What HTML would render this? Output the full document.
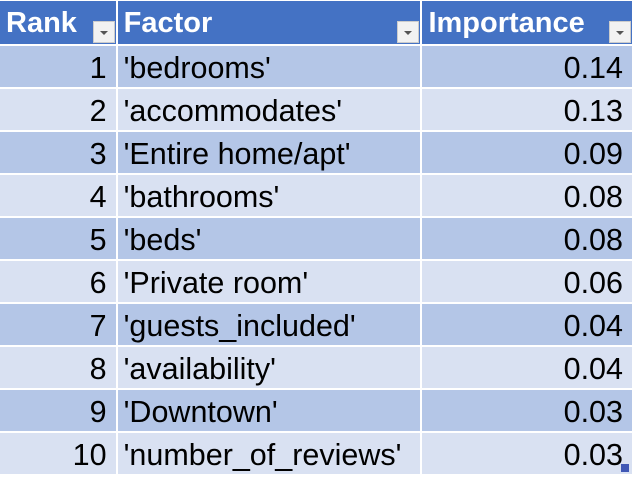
<!DOCTYPE html>
<html><head><style>
body{margin:0;width:634px;height:477px;background:#fff;overflow:hidden;font-family:"Liberation Sans",sans-serif;}
table{position:absolute;left:0;top:1px;border-collapse:collapse;table-layout:fixed;}
td,th{padding:3px 8px 0 6px;box-sizing:border-box;border:2px solid #fff;border-top:none;border-left:none;font-size:30.5px;line-height:38px;white-space:nowrap;overflow:hidden;position:relative;}
td{height:43px;}
th{background:#4472C4;color:#fff;text-align:left;font-weight:bold;height:44px;padding-top:2px;padding-bottom:2px;font-size:29px;}
tr.o td{background:#B4C6E7;}
tr.e td{background:#D9E1F2;}
td.n{text-align:right;padding-right:9px;}
.f{position:absolute;right:1px;bottom:1px;width:22px;height:22px;background:#f2f2f2;border:1px solid #ccc;box-sizing:border-box;}
.f:after{content:"";position:absolute;left:6px;top:9px;border-left:4px solid transparent;border-right:4px solid transparent;border-top:4px solid #555;}
.h{position:absolute;left:621px;top:464px;width:8px;height:8px;background:#3f57b5;}
</style></head><body>
<table>
<colgroup><col style="width:117px"><col style="width:305px"><col style="width:212px"></colgroup>
<tr><th>Rank<span class="f"></span></th><th>Factor<span class="f"></span></th><th>Importance<span class="f"></span></th></tr>
<tr class="o"><td class="n">1</td><td>'bedrooms'</td><td class="n">0.14</td></tr>
<tr class="e"><td class="n">2</td><td>'accommodates'</td><td class="n">0.13</td></tr>
<tr class="o"><td class="n">3</td><td>'Entire home/apt'</td><td class="n">0.09</td></tr>
<tr class="e"><td class="n">4</td><td>'bathrooms'</td><td class="n">0.08</td></tr>
<tr class="o"><td class="n">5</td><td>'beds'</td><td class="n">0.08</td></tr>
<tr class="e"><td class="n">6</td><td>'Private room'</td><td class="n">0.06</td></tr>
<tr class="o"><td class="n">7</td><td>'guests_included'</td><td class="n">0.04</td></tr>
<tr class="e"><td class="n">8</td><td>'availability'</td><td class="n">0.04</td></tr>
<tr class="o"><td class="n">9</td><td>'Downtown'</td><td class="n">0.03</td></tr>
<tr class="e"><td class="n">10</td><td>'number_of_reviews'</td><td class="n">0.03</td></tr>
</table>
<div class="h"></div>
</body></html>
